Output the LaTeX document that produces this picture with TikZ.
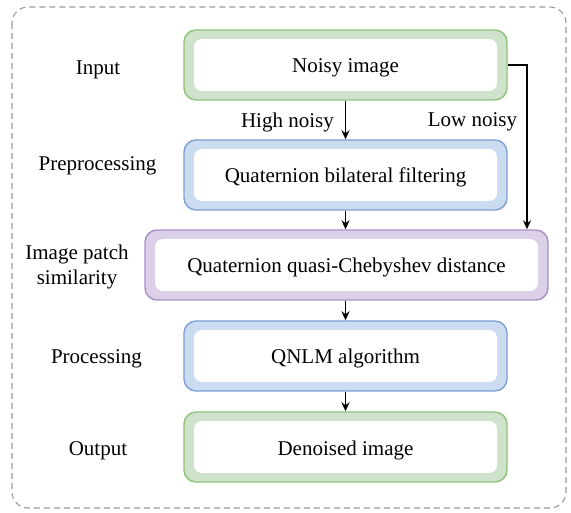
\documentclass[tikz,border=0pt]{standalone}
\usepackage{fontspec}
\setmainfont{Liberation Serif}
\usetikzlibrary{arrows.meta}

\definecolor{greenfill}{HTML}{CFE2CC}
\definecolor{greenline}{HTML}{8CC47A}
\definecolor{bluefill}{HTML}{CBDBF0}
\definecolor{blueline}{HTML}{7FA0D2}
\definecolor{purplefill}{HTML}{DCD0E8}
\definecolor{purpleline}{HTML}{A890C6}
\definecolor{frameline}{HTML}{9A9A9A}

\tikzset{
  stagebox/.style={
    rectangle, rounded corners=12pt, line width=1.4pt,
    minimum height=70pt, inner sep=0pt,
    text height=16pt, text depth=0pt,
    font=\fontsize{21}{25}\selectfont,
    path picture={
      \fill[white, rounded corners=8pt]
        ([shift={(10pt,-9pt)}]path picture bounding box.north west) rectangle
        ([shift={(-10pt,9pt)}]path picture bounding box.south east);
    }
  },
  greenbox/.style={stagebox, fill=greenfill, draw=greenline, minimum width=323pt},
  bluebox/.style={stagebox, fill=bluefill, draw=blueline, minimum width=323pt},
  purplebox/.style={stagebox, fill=purplefill, draw=purpleline, minimum width=403pt},
  stagelabel/.style={font=\fontsize{21}{25}\selectfont, align=center, inner sep=0pt},
  flow/.style={-{Stealth[length=9pt,width=8pt]}, line width=1.4pt, black}
}

\begin{document}
\begin{tikzpicture}[x=1pt, y=-1pt]
  \useasboundingbox (0,0) rectangle (571,513);

  % dashed frame round the whole scheme
  \draw[frameline, dashed, line width=1.1pt, dash pattern=on 6pt off 4pt, rounded corners=16pt]
    (12,7) rectangle (566,508);

  % processing stages
  \node[greenbox]  (noisy)    at (345.5,65)  {Noisy image};
  \node[bluebox]   (bilat)    at (345.5,175) {Quaternion bilateral filtering};
  \node[purplebox] (cheb)     at (346.5,265) {Quaternion quasi-Chebyshev distance};
  \node[bluebox]   (qnlm)     at (345.5,356) {QNLM algorithm};
  \node[greenbox]  (denoised) at (345.5,447) {Denoised image};

  % stage names on the left
  \node[stagelabel] (linput) at (98,70)  {Input};
  \node[stagelabel] (lpre)   at (97.5,166) {Preprocessing};
  \node[stagelabel] (lsim)   at (77,267) {Image patch\\similarity};
  \node[stagelabel] (lproc)  at (96.5,359) {Processing};
  \node[stagelabel] (lout)   at (98,451) {Output};

  % connectors
  \draw[flow] (noisy) -- (bilat);
  \draw[flow] (bilat) -- (cheb.north -| bilat.south);
  \draw[flow] (cheb.south -| qnlm.north) -- (qnlm);
  \draw[flow] (qnlm) -- (denoised);
  \coordinate (bend) at (527,65);
  \draw[flow] (noisy.east) -- (bend) -- (bend |- cheb.north);

  % branch names
  \node[stagelabel, anchor=east] (lhigh) at (334,122) {High noisy};
  \node[stagelabel] (llow) at (472.5,122) {Low noisy};
\end{tikzpicture}
\end{document}
